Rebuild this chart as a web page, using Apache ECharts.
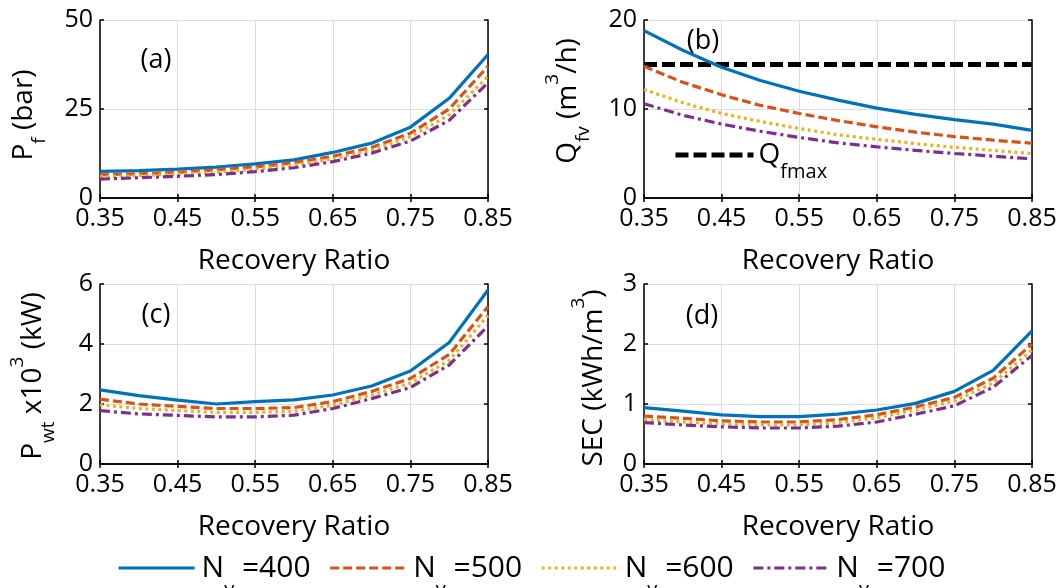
<!DOCTYPE html>
<html><head><meta charset="utf-8">
<script src="https://cdn.jsdelivr.net/npm/echarts/dist/echarts.min.js"></script>
<style>html,body{margin:0;padding:0;background:#fff}#c{width:1060px;height:588px}</style>
</head><body><div id="c"></div>
<script>
// ---------- data ----------
const recovery = [0.35, 0.40, 0.45, 0.50, 0.55, 0.60, 0.65, 0.70, 0.75, 0.80, 0.85];
const nvValues = [400, 500, 600, 700];
const seriesNames = ['Nv=400', 'Nv=500', 'Nv=600', 'Nv=700'];

const pf400 = [7.5, 7.7, 8.1, 8.7, 9.6, 10.7, 12.8, 15.4, 19.9, 28.0, 40.3];
const pf500 = [6.5, 6.8, 7.2, 7.9, 8.7, 9.9, 11.7, 14.2, 18.2, 25.0, 37.0];
const pf600 = [6.0, 6.3, 6.7, 7.3, 8.1, 9.3, 11.0, 13.5, 17.2, 23.3, 34.2];
const pf700 = [5.3, 5.7, 6.1, 6.6, 7.4, 8.5, 10.2, 12.6, 16.0, 21.8, 32.4];

const qf400 = [18.8, 16.6, 14.7, 13.2, 12.0, 11.0, 10.1, 9.4, 8.8, 8.3, 7.6];
const qf500 = [14.8, 13.0, 11.6, 10.4, 9.5, 8.7, 8.0, 7.4, 6.9, 6.5, 6.15];
const qf600 = [12.2, 10.7, 9.5, 8.6, 7.8, 7.1, 6.6, 6.1, 5.7, 5.35, 5.0];
const qf700 = [10.6, 9.3, 8.3, 7.5, 6.8, 6.2, 5.75, 5.35, 5.0, 4.7, 4.4];
const qfmaxX = [0.35, 0.85];
const qfmaxY = [15, 15];

const pw400 = [2.47, 2.28, 2.13, 2.0, 2.08, 2.14, 2.3, 2.6, 3.1, 4.05, 5.8];
const pw500 = [2.16, 2.0, 1.92, 1.85, 1.85, 1.88, 2.08, 2.42, 2.85, 3.65, 5.25];
const pw600 = [1.97, 1.85, 1.78, 1.72, 1.72, 1.76, 1.96, 2.3, 2.7, 3.45, 4.95];
const pw700 = [1.78, 1.67, 1.62, 1.57, 1.57, 1.63, 1.85, 2.18, 2.55, 3.3, 4.6];

const sec400 = [0.94, 0.88, 0.82, 0.79, 0.79, 0.83, 0.9, 1.01, 1.21, 1.56, 2.22];
const sec500 = [0.8, 0.76, 0.72, 0.7, 0.7, 0.74, 0.82, 0.95, 1.11, 1.43, 2.0];
const sec600 = [0.74, 0.7, 0.67, 0.65, 0.65, 0.69, 0.77, 0.9, 1.05, 1.35, 1.9];
const sec700 = [0.69, 0.65, 0.62, 0.6, 0.6, 0.63, 0.7, 0.83, 0.97, 1.28, 1.81];

const yMaxes = [50, 20, 6, 3];
const yIntervals = [25, 10, 2, 1];
const xMin = 0.35, xMax = 0.85, xInterval = 0.1;
const panelLetters = ['(a)', '(b)', '(c)', '(d)'];

// ---------- style / layout ----------
const FONT = '"Open Sans", sans-serif';
const colors = ['#0072BD', '#D95319', '#EDB120', '#7E2F8E'];
const dashes = ['solid', [9, 4], [3, 3.5], [10, 4, 3, 4]];
const grids = [
  { left: 100, top: 20, width: 388, height: 178 },
  { left: 644, top: 20, width: 388, height: 178 },
  { left: 100, top: 284, width: 388, height: 180 },
  { left: 644, top: 284, width: 388, height: 180 }
];
const panelData = [
  [pf400, pf500, pf600, pf700],
  [qf400, qf500, qf600, qf700],
  [pw400, pw500, pw600, pw700],
  [sec400, sec500, sec600, sec700]
];

const axisLineStyle = { show: true, lineStyle: { color: '#000', width: 1.5 } };
const tickStyle = { show: true, inside: true, length: 4, lineStyle: { color: '#000', width: 1.5 } };
const gridLine = { show: true, lineStyle: { color: '#dcdcdc', width: 1 } };

const xAxes = [], yAxes = [], series = [];
grids.forEach((g, gi) => {
  xAxes.push({
    gridIndex: gi, type: 'value', min: xMin, max: xMax, interval: xInterval, position: 'bottom',
    axisLine: axisLineStyle, axisTick: tickStyle, splitLine: gridLine,
    axisLabel: { color: '#000', fontSize: 25, fontFamily: FONT, margin: 8, formatter: v => v.toFixed(2) },
    name: 'Recovery Ratio', nameLocation: 'middle', nameGap: 49,
    nameTextStyle: { color: '#000', fontSize: 28, fontFamily: FONT }
  });
  xAxes.push({
    gridIndex: gi, type: 'value', min: xMin, max: xMax, interval: xInterval, position: 'top',
    axisLine: axisLineStyle, axisTick: tickStyle, axisLabel: { show: false }, splitLine: { show: false }
  });
  yAxes.push({
    gridIndex: gi, type: 'value', min: 0, max: yMaxes[gi], interval: yIntervals[gi], position: 'left',
    axisLine: axisLineStyle, axisTick: tickStyle, splitLine: gridLine,
    axisLabel: { color: '#000', fontSize: 25, fontFamily: FONT, margin: 7 }
  });
  yAxes.push({
    gridIndex: gi, type: 'value', min: 0, max: yMaxes[gi], interval: yIntervals[gi], position: 'right',
    axisLine: axisLineStyle, axisTick: tickStyle, axisLabel: { show: false }, splitLine: { show: false }
  });
  panelData[gi].forEach((arr, si) => {
    series.push({
      type: 'line', name: seriesNames[si], xAxisIndex: gi * 2, yAxisIndex: gi * 2,
      data: recovery.map((x, k) => [x, arr[k]]),
      symbol: 'none', silent: true,
      lineStyle: { color: colors[si], width: 3.2, type: dashes[si] },
      itemStyle: { color: colors[si] }
    });
  });
});
series.push({
  type: 'line', name: 'Qfmax', xAxisIndex: 2, yAxisIndex: 2,
  data: qfmaxX.map((x, k) => [x, qfmaxY[k]]),
  symbol: 'none', silent: true, z: 1,
  lineStyle: { color: '#000', width: 5, type: [13, 5] },
  itemStyle: { color: '#000' }
});

const rt = (fs, extra) => Object.assign({ fontSize: fs, fontFamily: FONT, fill: '#000' }, extra || {});
function yTitle(x, y, text) {
  return {
    type: 'text', x: x, y: y, rotation: Math.PI / 2, silent: true,
    style: {
      text: text, align: 'center', verticalAlign: 'middle',
      fontSize: 28, fontFamily: FONT, fill: '#000',
      rich: {
        m: rt(28),
        sub: rt(19, { padding: [32, 0, 0, 0] }),
        sup: rt(19, { padding: [0, 0, 30, 0] })
      }
    }
  };
}
const graphics = [
  yTitle(24, 115, '{m|P}{sub|f}{m| (bar)}'),
  yTitle(568, 101, '{m|Q}{sub|fv}{m| (m}{sup|3}{m|/h)}'),
  yTitle(33, 376, '{m|P}{sub|wt}{m| x10}{sup|3}{m| (kW)}'),
  yTitle(594, 378, '{m|SEC (kWh/m}{sup|3}{m|)}')
];
const letterPos = [[156, 60], [703, 41], [156, 315], [702, 316]];
letterPos.forEach((p, i) => {
  graphics.push({
    type: 'text', x: p[0], y: p[1], silent: true,
    style: { text: panelLetters[i], align: 'center', verticalAlign: 'middle', fontSize: 27, fontFamily: FONT, fill: '#000' }
  });
});

const option = {
  animation: false,
  backgroundColor: '#fff',
  grid: grids.map(g => Object.assign({ show: false }, g)),
  xAxis: xAxes,
  yAxis: yAxes,
  legend: [
    {
      data: seriesNames, left: 117, top: 553, padding: 0, orient: 'horizontal',
      itemWidth: 76, itemHeight: 14, itemGap: 18, selectedMode: false,
      itemStyle: { opacity: 0 },
      lineStyle: { width: 3.2 },
      formatter: name => '{n|N}{sub|v}{m| =' + nvValues[seriesNames.indexOf(name)] + '}',
      textStyle: {
        color: '#000', fontSize: 30, fontFamily: FONT,
        rich: {
          n: { fontSize: 30, fontFamily: FONT, color: '#000', padding: [0, 0, 0, 2] },
          m: { fontSize: 30, fontFamily: FONT, color: '#000' },
          sub: { fontSize: 20, fontFamily: FONT, color: '#000', padding: [44, 0, 0, 0] }
        }
      }
    },
    {
      data: ['Qfmax'], left: 673, top: 141, padding: 0,
      itemWidth: 78, itemHeight: 10, selectedMode: false,
      itemStyle: { opacity: 0 },
      lineStyle: { width: 5 },
      formatter: () => '{m|Q}{sub|fmax}',
      textStyle: {
        color: '#000', fontSize: 28, fontFamily: FONT,
        rich: {
          m: { fontSize: 28, fontFamily: FONT, color: '#000' },
          sub: { fontSize: 20, fontFamily: FONT, color: '#000', padding: [34, 0, 0, 0] }
        }
      }
    }
  ],
  graphic: graphics,
  series: series
};
const chart = echarts.init(document.getElementById('c'), null, { renderer: 'canvas' });
chart.setOption(option);
</script>
</body></html>
